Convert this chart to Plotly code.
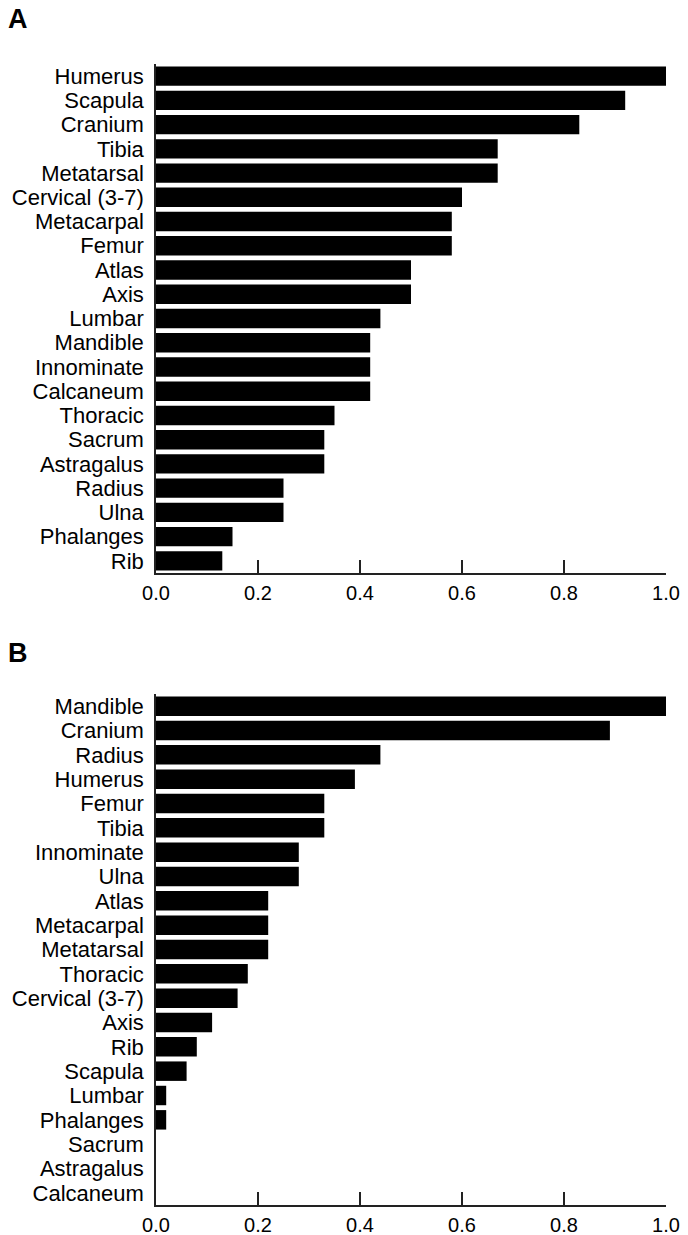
import plotly.graph_objects as go

# Panel A data (top to bottom)
cats_a = ["Humerus", "Scapula", "Cranium", "Tibia", "Metatarsal", "Cervical (3-7)",
          "Metacarpal", "Femur", "Atlas", "Axis", "Lumbar", "Mandible", "Innominate",
          "Calcaneum", "Thoracic", "Sacrum", "Astragalus", "Radius", "Ulna",
          "Phalanges", "Rib"]
vals_a = [1.0, 0.92, 0.83, 0.67, 0.67, 0.60, 0.58, 0.58, 0.50, 0.50, 0.44, 0.42,
          0.42, 0.42, 0.35, 0.33, 0.33, 0.25, 0.25, 0.15, 0.13]

# Panel B data (top to bottom)
cats_b = ["Mandible", "Cranium", "Radius", "Humerus", "Femur", "Tibia", "Innominate",
          "Ulna", "Atlas", "Metacarpal", "Metatarsal", "Thoracic", "Cervical (3-7)",
          "Axis", "Rib", "Scapula", "Lumbar", "Phalanges", "Sacrum", "Astragalus",
          "Calcaneum"]
vals_b = [1.0, 0.89, 0.44, 0.39, 0.33, 0.33, 0.28, 0.28, 0.22, 0.22, 0.22, 0.18,
          0.16, 0.11, 0.08, 0.06, 0.02, 0.02, 0.0, 0.0, 0.0]

tick_vals = [0.0, 0.2, 0.4, 0.6, 0.8, 1.0]
tick_text = ["0.0", "0.2", "0.4", "0.6", "0.8", "1.0"]

W, H = 688, 1235
FONT = "Liberation Sans, Arial, sans-serif"
AX = "#222222"
FS_Y = 22
FS_X = 20

def px_x(p):
    return p / W

def px_y(p):
    return 1 - p / H

fig = go.Figure()
fig.add_trace(go.Bar(x=vals_a, y=cats_a, orientation="h", xaxis="x", yaxis="y",
                     marker=dict(color="black", line=dict(width=0)), showlegend=False))
fig.add_trace(go.Bar(x=vals_b, y=cats_b, orientation="h", xaxis="x2", yaxis="y2",
                     marker=dict(color="black", line=dict(width=0)), showlegend=False))

xdom = [px_x(156), px_x(666)]
ydom_a = [px_y(573), px_y(64)]
ydom_b = [px_y(1205), px_y(694)]

def xaxis_cfg(anchor):
    return dict(domain=xdom, anchor=anchor, range=[0, 1.0], tickmode="array",
                tickvals=tick_vals, ticktext=tick_text, ticks="inside", ticklen=13,
                tickwidth=1.5, tickcolor=AX, showline=True, linecolor=AX,
                linewidth=1.5, showgrid=False, zeroline=False, automargin=False,
                ticklabelstandoff=1,
                tickfont=dict(family=FONT, size=FS_X, color="black"))

def yaxis_cfg(anchor, dom, cats):
    return dict(domain=dom, anchor=anchor, autorange="reversed", type="category",
                tickmode="array", tickvals=cats, ticktext=cats,
                ticks="", showline=True, linecolor=AX, linewidth=1.5,
                showgrid=False, zeroline=False, automargin=False,
                ticklabelstandoff=6,
                tickfont=dict(family=FONT, size=FS_Y, color="black"))

fig.update_layout(
    width=W, height=H,
    margin=dict(l=0, r=0, t=0, b=0),
    paper_bgcolor="white", plot_bgcolor="white",
    bargap=0.2,
    xaxis=xaxis_cfg("y"),
    yaxis=yaxis_cfg("x", ydom_a, cats_a),
    xaxis2=xaxis_cfg("y2"),
    yaxis2=yaxis_cfg("x2", ydom_b, cats_b),
    annotations=[
        dict(text="<b>A</b>", x=px_x(6), y=px_y(19), xref="paper", yref="paper",
             xanchor="left", yanchor="middle", showarrow=False,
             font=dict(family=FONT, size=27, color="black")),
        dict(text="<b>B</b>", x=px_x(6), y=px_y(653), xref="paper", yref="paper",
             xanchor="left", yanchor="middle", showarrow=False,
             font=dict(family=FONT, size=27, color="black")),
    ],
)

fig.write_html(
    "out.html",
    config={"displayModeBar": False},
    post_script="document.body.style.margin='0';document.body.style.overflow='hidden';",
)
